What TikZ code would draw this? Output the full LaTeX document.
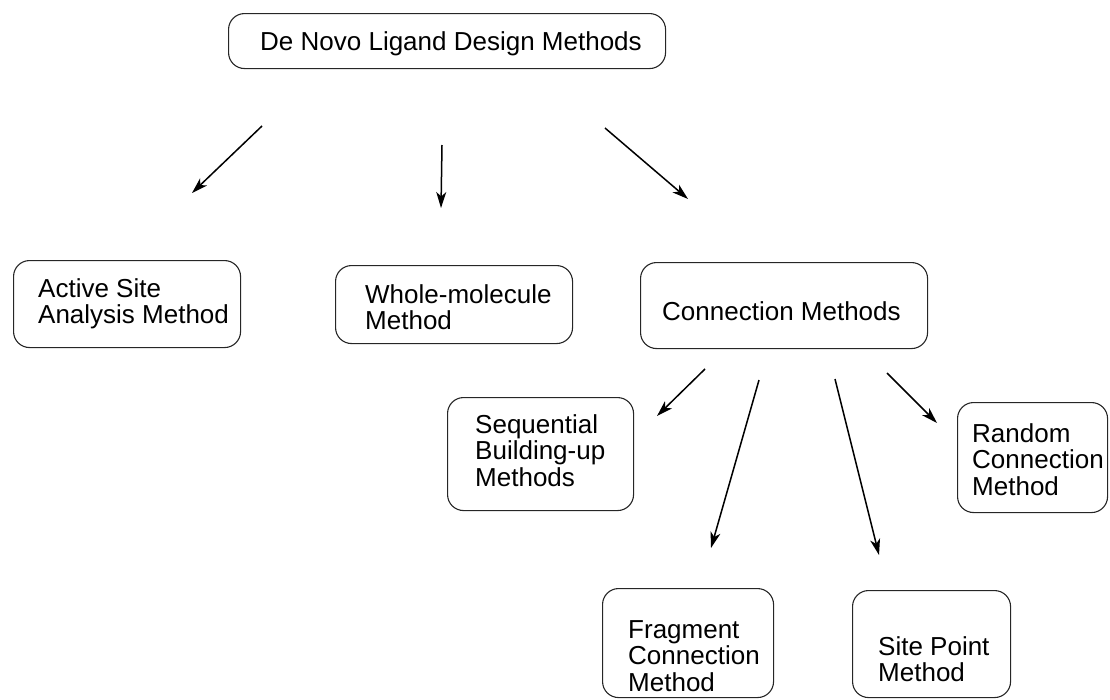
\documentclass[tikz,border=0pt]{standalone}
\usepackage{fontspec}
\setmainfont{Liberation Sans}
\usetikzlibrary{arrows.meta}
\begin{document}
\begin{tikzpicture}[x=1pt,y=-1pt,
  box/.style={draw=black!85, line width=1.1pt, rounded corners=16pt, anchor=north west, inner sep=0pt},
  lbl/.style={align=left, inner sep=0pt, anchor=base west, font=\fontsize{26}{26.5}\selectfont},
  arr/.style={line width=1.5pt, -{Stealth[length=16pt,width=10pt,inset=4.5pt]}}]
\useasboundingbox (0,0) rectangle (1110,699);
% boxes
\node[box, minimum width=437pt, minimum height=55pt] (top) at (228,13) {};
\node[box, minimum width=227pt, minimum height=87pt] (act) at (13,260) {};
\node[box, minimum width=237pt, minimum height=78pt] (whole) at (335,265) {};
\node[box, minimum width=287pt, minimum height=86pt] (conn) at (640,262) {};
\node[box, minimum width=186pt, minimum height=113pt] (seq) at (447,397) {};
\node[box, minimum width=150pt, minimum height=110pt] (rand) at (957,402) {};
\node[box, minimum width=171pt, minimum height=109pt] (frag) at (602,588) {};
\node[box, minimum width=158pt, minimum height=107pt] (site) at (852,590) {};
% labels (anchored at the baseline of the last line)
\node[lbl] (topt) at (260,50) {De Novo Ligand Design Methods};
\node[lbl] (actt) at (38,323.5) {Active Site\\Analysis Method};
\node[lbl] (wholet) at (365,329.5) {Whole-molecule\\Method};
\node[lbl] (connt) at (662,320) {Connection Methods};
\node[lbl] (seqt) at (475,486) {Sequential\\Building-up\\Methods};
\node[lbl] (randt) at (972,495) {Random\\Connection\\Method};
\node[lbl] (fragt) at (628,691) {Fragment\\Connection\\Method};
\node[lbl] (sitet) at (878,681.5) {Site Point\\Method};
% arrow end points
\coordinate (a1s) at (262,126); \coordinate (a1e) at (192,193);
\coordinate (a2s) at (442,145); \coordinate (a2e) at (441,208);
\coordinate (a3s) at (605,128); \coordinate (a3e) at (688,199);
\coordinate (a4s) at (705,369); \coordinate (a4e) at (657,416);
\coordinate (a5s) at (759,380); \coordinate (a5e) at (711,548);
\coordinate (a6s) at (835,379); \coordinate (a6e) at (879,555);
\coordinate (a7s) at (887,373); \coordinate (a7e) at (937,423);
\foreach \i in {1,...,7} {\draw[arr] (a\i s) -- (a\i e);}
\end{tikzpicture}
\end{document}
